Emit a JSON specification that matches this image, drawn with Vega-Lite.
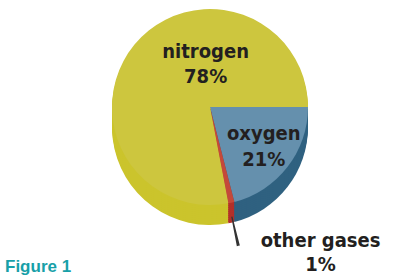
{
  "$schema": "https://vega.github.io/schema/vega-lite/v6.json",
  "autosize": "none",
  "width": 366,
  "height": 214,
  "padding": {"left": 27, "top": 0, "right": 0, "bottom": 62},
  "background": "#ffffff",
  "config": {"view": {"stroke": null}},
  "title": {"text": "Figure 1", "orient": "bottom", "anchor": "start", "frame": "group", "color": "#17a0a8", "font": "Liberation Sans", "fontSize": 17, "fontWeight": "bold", "dx": -22, "offset": -16, "baseline": "top"},
  "data": {
    "values": [
      {"gas": "oxygen", "value": 21, "label": "oxygen\n21%", "order": 1},
      {"gas": "other gases", "value": 1, "label": "other gases\n1%", "order": 2},
      {"gas": "nitrogen", "value": 78, "label": "nitrogen\n78%", "order": 3}
    ]
  },
  "encoding": {
    "theta": {"field": "value", "type": "quantitative", "stack": true, "scale": {"range": [1.5708, 7.854]}},
    "order": {"field": "order", "type": "quantitative"}
  },
  "layer": [
    {"mark": {"type": "arc", "radius": 98, "yOffset": 20}, "encoding": {"fill": {"field": "gas", "type": "nominal", "legend": null, "scale": {"domain": ["nitrogen", "oxygen", "other gases"], "range": ["#cbc42c", "#2f6180", "#b3302a"]}}}},
    {"mark": {"type": "arc", "radius": 98, "yOffset": 18}, "encoding": {"fill": {"field": "gas", "type": "nominal", "legend": null}}},
    {"mark": {"type": "arc", "radius": 98, "yOffset": 16}, "encoding": {"fill": {"field": "gas", "type": "nominal", "legend": null}}},
    {"mark": {"type": "arc", "radius": 98, "yOffset": 14}, "encoding": {"fill": {"field": "gas", "type": "nominal", "legend": null}}},
    {"mark": {"type": "arc", "radius": 98, "yOffset": 12}, "encoding": {"fill": {"field": "gas", "type": "nominal", "legend": null}}},
    {"mark": {"type": "arc", "radius": 98, "yOffset": 10}, "encoding": {"fill": {"field": "gas", "type": "nominal", "legend": null}}},
    {"mark": {"type": "arc", "radius": 98, "yOffset": 8}, "encoding": {"fill": {"field": "gas", "type": "nominal", "legend": null}}},
    {"mark": {"type": "arc", "radius": 98, "yOffset": 6}, "encoding": {"fill": {"field": "gas", "type": "nominal", "legend": null}}},
    {"mark": {"type": "arc", "radius": 98, "yOffset": 4}, "encoding": {"fill": {"field": "gas", "type": "nominal", "legend": null}}},
    {"mark": {"type": "arc", "radius": 98, "yOffset": 2}, "encoding": {"fill": {"field": "gas", "type": "nominal", "legend": null}}},
    {"mark": {"type": "arc", "radius": 98}, "encoding": {"color": {"field": "gas", "type": "nominal", "legend": null, "scale": {"domain": ["nitrogen", "oxygen", "other gases"], "range": ["#cdc63e", "#6590ad", "#c4493a"]}}}},
    {
      "mark": {"type": "arc", "radius": 100, "radius2": 130, "padAngle": 0.031, "yOffset": 12},
      "encoding": {
        "fill": {"condition": {"test": "datum.gas === 'other gases'", "value": "#333333"}, "value": "transparent"}
      }
    },
    {
      "mark": {"type": "text", "radius": 55, "thetaOffset": 0.8, "fontSize": 20, "fontWeight": "bold", "font": "'DejaVu Sans Condensed', 'Liberation Sans', sans-serif", "lineBreak": "\n", "lineHeight": 25, "color": "#231f20", "baseline": "middle"},
      "encoding": {
        "text": {"condition": {"test": "datum.gas === 'nitrogen'", "field": "label"}, "value": ""}
      }
    },
    {
      "mark": {"type": "text", "radius": 60, "thetaOffset": -0.2, "fontSize": 20, "fontWeight": "bold", "font": "'DejaVu Sans Condensed', 'Liberation Sans', sans-serif", "lineBreak": "\n", "lineHeight": 26, "color": "#231f20", "baseline": "middle"},
      "encoding": {
        "text": {"condition": {"test": "datum.gas === 'oxygen'", "field": "label"}, "value": ""}
      }
    },
    {
      "mark": {"type": "text", "radius": 140, "fontSize": 20, "fontWeight": "bold", "font": "'DejaVu Sans Condensed', 'Liberation Sans', sans-serif", "lineBreak": "\n", "lineHeight": 24, "color": "#231f20", "align": "center", "dx": 80, "dy": -3, "baseline": "middle"},
      "encoding": {
        "text": {"condition": {"test": "datum.gas === 'other gases'", "field": "label"}, "value": ""}
      }
    }
  ]
}
